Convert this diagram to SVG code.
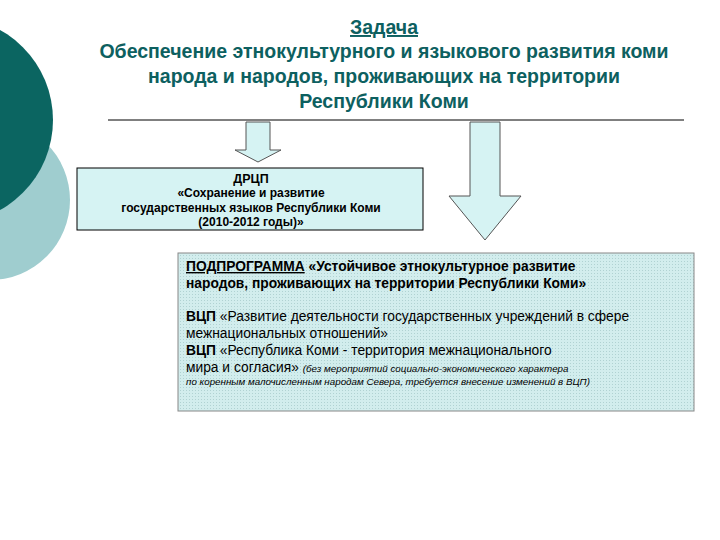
<svg xmlns="http://www.w3.org/2000/svg" width="720" height="540" viewBox="0 0 720 540">
<defs>
<style>
.t{font-family:"Liberation Sans",Arial,sans-serif;font-weight:bold;fill:#0d6060;font-size:19.5px;text-anchor:middle}
.v{font-family:"Liberation Sans",Arial,sans-serif;fill:#000}
.arrow{fill:#d6f3f3;stroke:#555;stroke-width:1}
</style>
<pattern id="dots" width="3" height="3" patternUnits="userSpaceOnUse">
<rect width="3" height="3" fill="#d2eded"/><rect width="1" height="1" fill="#b0d2d2"/>
</pattern>
</defs>
<rect width="720" height="540" fill="#fff"/>
<circle cx="-10" cy="200" r="80" fill="#9fcdcf"/>
<circle cx="-50" cy="120" r="103" fill="#0b6561"/>
<g id="title">
<text class="t" x="384" y="34" text-decoration="underline">Задача</text>
<text class="t" x="384" y="58">Обеспечение этнокультурного и языкового развития коми</text>
<text class="t" x="384" y="83">народа и народов, проживающих на территории</text>
<text class="t" x="384" y="108">Республики Коми</text>
</g>
<g id="connectors">
<line x1="108" y1="120" x2="684" y2="120" stroke="#000" stroke-width="1"/>
<polygon class="arrow" points="246,122 270,122 270,150 281,150 258,162 235,150 246,150"/>
<polygon class="arrow" points="470,122 500,122 500,196 521,196 485,240 449,196 470,196"/>
</g>
<g id="drcp">
<rect x="77" y="168" width="346" height="62" fill="#d6f3f3" stroke="#000"/>
<text class="v" x="251" y="183" font-size="12.5" font-weight="bold" text-anchor="middle">ДРЦП</text>
<text class="v" x="251" y="197" font-size="12" font-weight="bold" text-anchor="middle">«Сохранение и развитие</text>
<text class="v" x="251" y="212" font-size="12" font-weight="bold" text-anchor="middle">государственных языков Республики Коми</text>
<text class="v" x="251" y="226" font-size="12" font-weight="bold" text-anchor="middle">(2010-2012 годы)»</text>
</g>
<g id="podprogramma">
<rect x="178" y="253" width="516" height="158" fill="url(#dots)" stroke="#888"/>
<text class="v" x="186" y="271" font-size="13.8" font-weight="bold"><tspan text-decoration="underline">ПОДПРОГРАММА</tspan> «Устойчивое этнокультурное развитие</text>
<text class="v" x="186" y="288" font-size="13.8" font-weight="bold">народов, проживающих на территории Республики Коми»</text>
<text class="v" x="186" y="321" font-size="13.8"><tspan font-weight="bold">ВЦП</tspan> «Развитие деятельности государственных учреждений в сфере</text>
<text class="v" x="186" y="338" font-size="13.8">межнациональных отношений»</text>
<text class="v" x="186" y="355" font-size="13.8"><tspan font-weight="bold">ВЦП</tspan> «Республика Коми - территория межнационального</text>
<text class="v" x="186" y="372" font-size="13.8">мира и согласия» <tspan font-size="9.8" font-style="italic">(без мероприятий социально-экономического характера</tspan></text>
<text class="v" x="186" y="385" font-size="9.8" font-style="italic">по коренным малочисленным народам Севера, требуется внесение изменений в ВЦП)</text>
</g>
</svg>
